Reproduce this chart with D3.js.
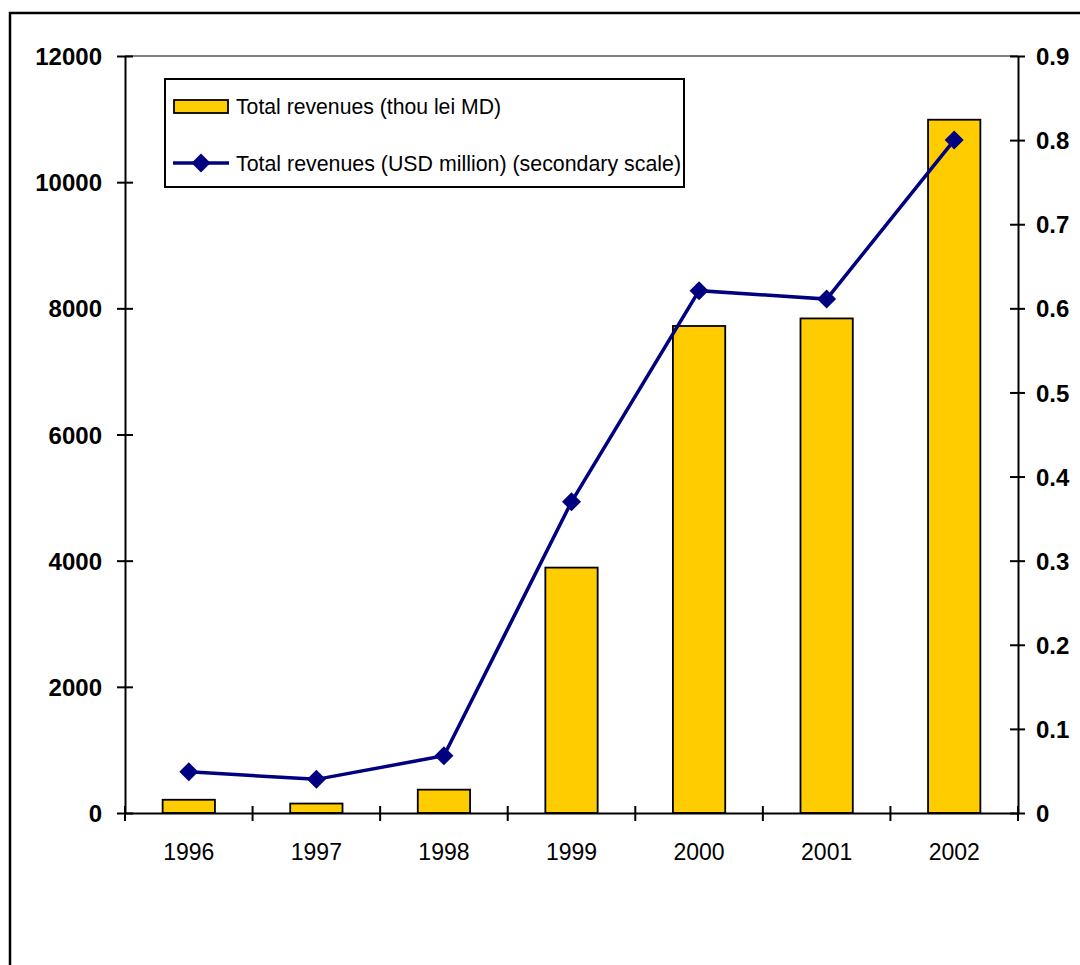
<!DOCTYPE html>
<html>
<head>
<meta charset="utf-8">
<script src="https://cdn.jsdelivr.net/npm/d3@7"></script>
<style>
  body { margin: 0; background: #fff; }
  text { font-family: "Liberation Sans", Arial, sans-serif; }
</style>
</head>
<body>
<div id="container"></div>
<script>
const years = ["1996", "1997", "1998", "1999", "2000", "2001", "2002"];
const revenuesLei = [210, 150, 370, 3890, 7720, 7840, 10990];
const revenuesUsd = [0.049, 0.040, 0.068, 0.370, 0.621, 0.611, 0.800];
const leftTicks = [0, 2000, 4000, 6000, 8000, 10000, 12000];
const rightTicks = [0, 0.1, 0.2, 0.3, 0.4, 0.5, 0.6, 0.7, 0.8, 0.9];
const legendLabels = ["Total revenues (thou lei MD)", "Total revenues (USD million) (secondary scale)"];

const width = 1080;
const height = 965;
const plot = {left: 125, right: 1018, top: 56, bottom: 813};

const svg = d3.select("#container")
              .append("svg")
              .attr("width", width)
              .attr("height", height);

// outer chart frame (runs off the page on right and bottom)
svg.append("rect")
   .attr("x", 10)
   .attr("y", 13)
   .attr("width", 1200)
   .attr("height", 1100)
   .attr("fill", "#fff")
   .attr("stroke", "#000")
   .attr("stroke-width", 2.5);

const x = d3.scaleBand()
            .domain(years)
            .range([plot.left, plot.right]);
const yLeft = d3.scaleLinear()
                .domain([0, 12000])
                .range([plot.bottom, plot.top]);
const yRight = d3.scaleLinear()
                 .domain([0, 0.9])
                 .range([plot.bottom, plot.top]);

// top border of plot area
svg.append("line")
   .attr("x1", plot.left)
   .attr("x2", plot.right)
   .attr("y1", plot.top)
   .attr("y2", plot.top)
   .attr("stroke", "#808080")
   .attr("stroke-width", 2);

// bars
const barW = x.bandwidth() * 0.41;
svg.selectAll("rect.bar")
   .data(years)
   .enter()
   .append("rect")
   .attr("class", "bar")
   .attr("x", (d) => x(d) + (x.bandwidth() - barW) / 2)
   .attr("y", (d, i) => yLeft(revenuesLei[i]))
   .attr("width", barW)
   .attr("height", (d, i) => plot.bottom - yLeft(revenuesLei[i]))
   .attr("fill", "#FFCC00")
   .attr("stroke", "#000")
   .attr("stroke-width", 1.8);

// axes
const axisLeft = d3.axisLeft(yLeft)
                   .tickValues(leftTicks)
                   .tickSize(0)
                   .tickFormat(d3.format("d"));
const gl = svg.append("g")
              .attr("transform", "translate(" + plot.left + ",0)")
              .call(axisLeft);
const axisRight = d3.axisRight(yRight)
                    .tickValues(rightTicks)
                    .tickSize(0)
                    .tickFormat((d) => d === 0 ? "0" : d3.format(".1f")(d));
const gr = svg.append("g")
              .attr("transform", "translate(" + plot.right + ",0)")
              .call(axisRight);
const axisBottom = d3.axisBottom(x)
                     .tickSize(0);
const gb = svg.append("g")
              .attr("transform", "translate(0," + plot.bottom + ")")
              .call(axisBottom);

[gl, gr, gb].forEach((g) => {
  g.select(".domain")
   .attr("stroke", "#000")
   .attr("stroke-width", 2);
  g.selectAll(".tick line").remove();
});

gl.selectAll(".tick")
  .append("line")
  .attr("x1", -8).attr("x2", 8)
  .attr("stroke", "#000").attr("stroke-width", 2);
gr.selectAll(".tick")
  .append("line")
  .attr("x1", -8).attr("x2", 7)
  .attr("stroke", "#000").attr("stroke-width", 2);

gl.selectAll(".tick text")
  .attr("x", -23)
  .attr("dy", "0.36em")
  .attr("font-size", 24)
  .attr("font-weight", "bold")
  .attr("fill", "#000");
gr.selectAll(".tick text")
  .attr("x", 18)
  .attr("dy", "0.36em")
  .attr("font-size", 24)
  .attr("font-weight", "bold")
  .attr("fill", "#000");
gb.selectAll(".tick text")
  .attr("y", 47)
  .attr("dy", 0)
  .attr("font-size", 23)
  .attr("fill", "#000");

// category boundary ticks on the bottom axis
const boundaries = years.map((d) => x(d)).concat([plot.right]);
gb.selectAll("line.bound")
  .data(boundaries)
  .enter()
  .append("line")
  .attr("class", "bound")
  .attr("x1", (d) => d).attr("x2", (d) => d)
  .attr("y1", -7).attr("y2", 8)
  .attr("stroke", "#000").attr("stroke-width", 2);

// line series on secondary scale
const line = d3.line()
               .x((d, i) => x(years[i]) + x.bandwidth() / 2)
               .y((d) => yRight(d));
svg.append("path")
   .datum(revenuesUsd)
   .attr("d", line)
   .attr("fill", "none")
   .attr("stroke", "#000080")
   .attr("stroke-width", 3.5);

const diamond = d3.symbol().type(d3.symbolDiamond2).size(230);
svg.selectAll("path.marker")
   .data(revenuesUsd)
   .enter()
   .append("path")
   .attr("class", "marker")
   .attr("d", diamond)
   .attr("transform", (d, i) => "translate(" + (x(years[i]) + x.bandwidth() / 2) + "," + yRight(d) + ")")
   .attr("fill", "#000080");

// legend
const legend = svg.append("g");
legend.append("rect")
      .attr("x", 165)
      .attr("y", 79)
      .attr("width", 519)
      .attr("height", 108)
      .attr("fill", "#fff")
      .attr("stroke", "#000")
      .attr("stroke-width", 2);
legend.append("rect")
      .attr("x", 174)
      .attr("y", 100)
      .attr("width", 54)
      .attr("height", 13)
      .attr("fill", "#FFCC00")
      .attr("stroke", "#000")
      .attr("stroke-width", 1.8);
legend.append("line")
      .attr("x1", 173)
      .attr("x2", 229)
      .attr("y1", 163)
      .attr("y2", 163)
      .attr("stroke", "#000080")
      .attr("stroke-width", 3.5);
legend.append("path")
      .attr("d", diamond)
      .attr("transform", "translate(201,163)")
      .attr("fill", "#000080");
legend.selectAll("text")
      .data(legendLabels)
      .enter()
      .append("text")
      .attr("x", 236)
      .attr("y", (d, i) => 106 + i * 57)
      .attr("dy", "0.36em")
      .attr("font-size", 22)
      .attr("textLength", (d, i) => i === 0 ? 265 : 445)
      .attr("lengthAdjust", "spacingAndGlyphs")
      .attr("fill", "#000")
      .text((d) => d);
</script>
</body>
</html>
